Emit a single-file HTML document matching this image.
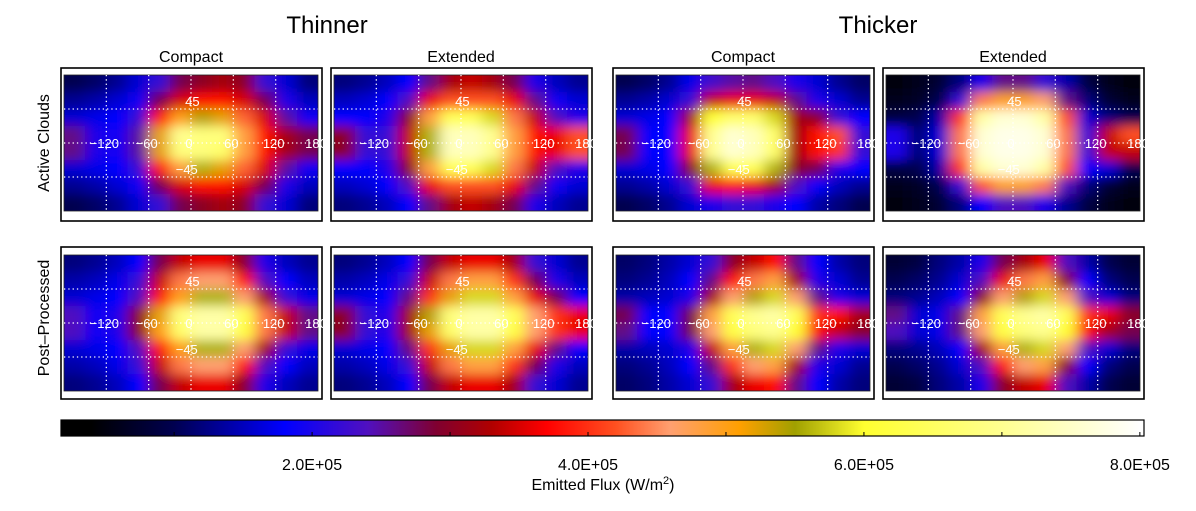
<!DOCTYPE html>
<html><head><meta charset="utf-8"><style>
html,body{margin:0;padding:0;background:#fff;}
svg{display:block;font-family:"Liberation Sans",sans-serif;}
</style></head><body>
<svg id="fig" width="1196" height="511" viewBox="0 0 1196 511">
<defs id="defs">
<filter id="smooth" x="-0.2" y="-0.2" width="1.4" height="1.4"><feGaussianBlur stdDeviation="7 5.5"/></filter>
<linearGradient id="cbar" x1="0" x2="1" y1="0" y2="0"></linearGradient>
</defs>
<g id="titles">
<text x="327" y="33" font-size="24" text-anchor="middle">Thinner</text>
<text x="878" y="33" font-size="24" text-anchor="middle">Thicker</text>
<text x="191" y="62" font-size="16" text-anchor="middle">Compact</text>
<text x="461" y="62" font-size="16" text-anchor="middle">Extended</text>
<text x="743" y="62" font-size="16" text-anchor="middle">Compact</text>
<text x="1013" y="62" font-size="16" text-anchor="middle">Extended</text>
<text transform="translate(49,143) rotate(-90)" font-size="16" text-anchor="middle">Active Clouds</text>
<text transform="translate(49,318) rotate(-90)" font-size="16" text-anchor="middle">Post–Processed</text>
</g>
<g id="panels"></g>
<g id="colorbar"></g>
</svg>
<script>
// value scale in units of 1E5 W/m^2; grids: 8 latitude rows (90N..90S) x 12 longitude cols (-180..180)
const cmapVals = [0.4,1.0,1.8,2.4,2.9,3.3,3.7,4.2,4.6,5.1,5.5,6.0,7.0,8.0];
const cmapCols = ["#000000","#000050","#0000ff","#5010c0","#800030","#b00000","#ff0000","#ff5020","#ffa070","#ffa000","#a0a000","#ffff30","#ffff90","#ffffff"];
const cbarTicks = [2,4,6,8];
const cbarTickLabels = ["2.0E+05","4.0E+05","6.0E+05","8.0E+05"];
const lonTicks = [-120,-60,0,60,120,180];
const latTicks = [45,-45];

const thinCompactActive = [
[1.0,1.1,1.3,1.6,2.2,2.8,3.0,3.2,3.0,2.2,1.6,1.2],
[1.3,1.4,1.6,1.9,2.8,3.5,3.8,3.8,3.5,2.8,2.0,1.5],
[1.6,1.7,1.8,2.2,3.8,5.0,5.4,5.2,4.3,3.5,2.5,1.9],
[2.6,2.0,1.9,2.5,5.2,7.0,6.8,6.8,4.8,3.8,3.2,2.8],
[2.6,2.0,1.9,2.5,5.2,6.8,6.8,6.6,4.8,3.8,3.2,2.8],
[1.6,1.7,1.8,2.2,3.8,4.8,5.6,5.2,4.3,3.5,2.5,1.9],
[1.3,1.4,1.6,1.9,2.8,3.5,3.8,3.8,3.5,2.8,2.0,1.5],
[1.0,1.1,1.3,1.6,2.2,2.8,3.0,3.2,3.0,2.2,1.6,1.2]];
const thinExtendedActive = [
[1.2,1.3,1.5,1.8,2.6,3.2,3.4,3.2,2.8,2.0,1.5,1.3],
[1.5,1.6,1.8,2.4,3.6,4.2,4.2,4.2,3.6,2.6,1.9,1.6],
[1.8,1.8,2.0,3.0,4.8,6.4,6.4,5.8,4.4,3.4,2.4,2.0],
[3.0,2.2,2.2,3.4,5.6,7.4,7.4,7.0,4.8,3.8,3.6,4.2],
[3.0,2.2,2.2,3.4,5.6,7.4,7.4,7.0,4.8,3.8,3.6,4.2],
[1.8,1.8,2.0,3.0,4.8,6.4,6.4,5.8,4.4,3.4,2.4,2.0],
[1.5,1.6,1.8,2.4,3.6,4.2,4.2,4.2,3.6,2.6,1.9,1.6],
[1.2,1.3,1.5,1.8,2.6,3.2,3.4,3.2,2.8,2.0,1.5,1.3]];
const thickCompactActive = [
[1.0,1.1,1.3,1.7,2.3,2.5,2.6,2.4,2.0,1.6,1.3,1.1],
[1.3,1.4,1.6,2.2,3.4,3.6,3.6,3.4,2.6,2.0,1.6,1.3],
[1.6,1.7,1.8,3.2,6.0,6.6,6.6,5.8,3.2,3.0,2.2,1.8],
[2.8,1.8,1.8,3.6,7.0,7.6,7.4,6.6,3.2,3.8,4.2,2.2],
[2.8,1.8,1.8,3.6,7.0,7.6,7.4,6.6,3.2,3.8,4.0,2.2],
[1.6,1.7,1.8,3.0,5.6,6.4,6.4,5.6,3.0,2.8,2.0,1.8],
[1.3,1.4,1.6,2.2,3.6,3.8,3.6,3.2,2.4,1.8,1.5,1.3],
[1.0,1.1,1.3,1.6,2.0,2.2,2.2,2.0,1.8,1.4,1.2,1.0]];
const thickExtendedActive = [
[0.5,0.6,0.8,1.2,2.0,2.6,2.6,2.2,1.4,0.9,0.6,0.5],
[0.6,0.7,1.0,2.2,4.4,5.0,5.0,4.6,2.6,1.2,0.8,0.6],
[0.9,1.0,1.4,4.0,7.2,7.6,7.6,7.2,4.2,1.6,1.2,1.0],
[2.0,1.2,1.6,4.4,7.6,7.8,7.8,7.6,4.4,2.2,3.4,4.2],
[2.0,1.2,1.6,4.4,7.6,7.8,7.8,7.6,4.4,2.2,3.4,3.4],
[0.9,1.0,1.4,4.0,7.2,7.6,7.6,7.2,4.2,1.8,1.6,1.0],
[0.6,0.7,1.0,2.2,4.2,5.0,5.0,4.4,2.4,1.2,0.8,0.6],
[0.5,0.6,0.8,1.2,1.8,2.4,2.4,2.0,1.3,0.9,0.6,0.5]];
const thinCompactPost = [
[1.2,1.3,1.5,1.8,2.8,3.4,3.6,3.6,3.0,2.0,1.5,1.3],
[1.4,1.5,1.7,2.2,3.4,4.4,4.6,4.6,3.8,2.4,1.8,1.5],
[1.6,1.7,1.8,2.4,3.8,5.0,5.6,5.6,4.6,3.2,2.2,1.7],
[2.4,1.9,2.0,3.0,5.2,6.8,7.2,7.2,6.4,4.4,3.4,2.6],
[2.4,1.9,2.0,3.0,5.0,6.6,7.2,7.2,6.2,4.4,3.4,2.6],
[1.6,1.7,1.8,2.4,3.8,5.0,5.6,5.6,4.6,3.2,2.2,1.7],
[1.4,1.5,1.7,2.2,3.4,4.4,4.6,4.6,3.8,2.4,1.8,1.5],
[1.2,1.3,1.5,1.8,2.8,3.4,3.6,3.6,3.0,2.0,1.5,1.3]];
const thinExtendedPost = [
[1.2,1.3,1.5,1.8,2.8,3.4,3.6,3.6,3.2,2.2,1.6,1.3],
[1.4,1.5,1.7,2.2,3.4,4.4,4.8,4.8,4.0,2.8,2.0,1.5],
[1.6,1.7,1.8,2.6,4.0,5.2,5.8,5.8,4.8,3.6,2.8,1.8],
[3.0,2.2,2.0,3.2,5.4,6.8,7.2,7.2,6.4,4.6,4.0,3.6],
[3.0,2.2,2.0,3.2,5.2,6.6,7.2,7.2,6.2,4.6,4.0,3.6],
[1.6,1.7,1.8,2.6,4.0,5.2,5.8,5.8,4.8,3.6,2.6,1.8],
[1.4,1.5,1.7,2.2,3.4,4.4,4.8,4.8,4.0,2.8,2.0,1.5],
[1.2,1.3,1.5,1.8,2.8,3.4,3.6,3.6,3.2,2.2,1.6,1.3]];
const thickCompactPost = [
[1.1,1.2,1.4,1.6,2.2,3.0,3.4,3.8,2.6,1.8,1.4,1.2],
[1.2,1.3,1.5,1.8,2.6,3.8,4.4,4.8,3.2,2.0,1.6,1.3],
[1.4,1.5,1.6,2.0,3.2,4.6,5.4,5.8,4.6,2.6,2.0,1.6],
[2.8,1.8,1.8,2.8,4.8,6.4,7.0,7.2,6.4,4.0,3.8,3.2],
[2.6,1.8,1.8,2.8,4.6,6.2,6.8,7.0,6.0,3.8,3.4,3.0],
[1.4,1.5,1.6,2.0,3.4,4.8,5.6,5.8,4.6,2.6,2.0,1.6],
[1.2,1.3,1.5,1.8,2.6,4.0,4.6,4.8,3.2,2.0,1.6,1.3],
[1.1,1.2,1.4,1.6,2.2,3.2,3.6,3.8,2.6,1.8,1.4,1.2]];
const thickExtendedPost = [
[0.8,0.9,1.2,1.4,2.0,2.8,3.2,3.6,2.4,1.4,1.0,0.8],
[1.0,1.1,1.3,1.6,2.4,3.6,4.4,4.8,3.0,1.8,1.2,1.0],
[1.2,1.3,1.5,1.8,3.0,4.6,5.4,5.8,4.6,2.4,1.6,1.2],
[2.6,1.6,1.7,2.6,4.8,6.4,7.0,7.2,6.4,4.0,3.6,3.0],
[2.4,1.6,1.7,2.6,4.6,6.2,6.8,7.0,6.0,3.8,3.2,2.8],
[1.2,1.3,1.5,1.8,3.2,4.8,5.6,5.8,4.6,2.4,1.6,1.2],
[1.0,1.1,1.3,1.6,2.4,3.8,4.6,4.8,3.0,1.8,1.2,1.0],
[0.8,0.9,1.2,1.4,2.0,3.0,3.4,3.6,2.4,1.4,1.0,0.8]];

const panelNames = ["thinner-compact-active","thinner-extended-active","thicker-compact-active","thicker-extended-active","thinner-compact-post","thinner-extended-post","thicker-compact-post","thicker-extended-post"];
const panelGrids = [thinCompactActive,thinExtendedActive,thickCompactActive,thickExtendedActive,thinCompactPost,thinExtendedPost,thickCompactPost,thickExtendedPost];

const NS="http://www.w3.org/2000/svg";
function mk(tag,attrs,parent){const e=document.createElementNS(NS,tag);for(const k in attrs)e.setAttribute(k,attrs[k]);if(parent)parent.appendChild(e);return e;}
function hex(c){return [parseInt(c.slice(1,3),16),parseInt(c.slice(3,5),16),parseInt(c.slice(5,7),16)];}
function color(v){
  if(v<=cmapVals[0])return cmapCols[0];
  for(let i=1;i<cmapVals.length;i++){
    if(v<=cmapVals[i]){const t=(v-cmapVals[i-1])/(cmapVals[i]-cmapVals[i-1]);const a=hex(cmapCols[i-1]),b=hex(cmapCols[i]);
      return "rgb("+a.map((x,j)=>Math.round(x+(b[j]-x)*t)).join(",")+")";}
  }
  return cmapCols[cmapCols.length-1];
}
const defs=document.getElementById('defs');
const colX=[64,334,616,886], rowY=[75,255], mapW=254, mapH=136;
const frameX=[61,331,613,883], frameY=[68,247], frameH=[153,152];
const panelsG=document.getElementById('panels');
panelGrids.forEach((grid,pi)=>{
  const c=pi%4,r=Math.floor(pi/4);
  const x0=colX[c],y0=rowY[r];
  const lonX=lon=>x0+(lon+180)/360*mapW;
  const latY=lat=>y0+(90-lat)/180*mapH;
  const cp=mk('clipPath',{id:'clip'+pi},defs);
  mk('rect',{x:x0,y:y0,width:mapW,height:mapH},cp);
  const g=mk('g',{},panelsG);
  
  
  const fr=mk('rect',{x:frameX[c],y:frameY[r],width:261,height:frameH[r],fill:'#fff',stroke:'#000','stroke-width':1.6},g);
  
  
  const clipG=mk('g',{'clip-path':'url(#clip'+pi+')'},g);
  const hm=mk('g',{filter:'url(#smooth)'},clipG);
  
  
  const nr=grid.length,nc=grid[0].length;
  for(let ri=-2;ri<=nr+1;ri++)for(let ci=-2;ci<=nc+1;ci++){
    if(ri>=0&&ri<nr&&ci>=0&&ci<nc)continue;
    const v=grid[Math.min(nr-1,Math.max(0,ri))][Math.min(nc-1,Math.max(0,ci))];
    const p=mk('rect',{x:lonX(-180+ci*360/nc),y:latY(90-ri*180/nr),width:mapW/nc+0.5,height:mapH/nr+0.5,fill:color(v)},hm);
    
    
  }
  grid.forEach((row,ri)=>row.forEach((v,ci)=>{
    const lonA=-180+ci*360/nc, latA=90-ri*180/nr;
    const cell=mk('rect',{x:lonX(lonA),y:latY(latA),width:mapW/nc+0.5,height:mapH/nr+0.5,fill:color(v)},hm);
    
    
  }));
  const bd=mk('rect',{x:x0,y:y0,width:mapW,height:mapH,fill:'none',stroke:'#222','stroke-width':0.8},g);
  
  
  lonTicks.forEach(l=>{ if(l===180)return;
    const ln=mk('line',{x1:lonX(l),x2:lonX(l),y1:y0,y2:y0+mapH,stroke:'#fff','stroke-width':1.3,'stroke-dasharray':'1.3 3'},g);
    
    
  });
  latTicks.concat([0]).forEach(l=>{
    const ln=mk('line',{x1:x0,x2:x0+mapW,y1:latY(l),y2:latY(l),stroke:'#fff','stroke-width':1.3,'stroke-dasharray':'1.3 3'},g);
    
    
  });
  lonTicks.forEach(l=>{
    const t=mk('text',{x:lonX(l)-2,y:latY(0)+5,'font-size':13,fill:'#fff','text-anchor':'middle'},g);
    t.textContent=(l<0?'\u2212':'')+Math.abs(l);
    
    
  });
  latTicks.forEach(l=>{
    const t=mk('text',{x:lonX(l>0?2:-6),y:latY(l)-3,'font-size':13,fill:'#fff','text-anchor':'middle'},g);
    t.textContent=(l<0?'\u2212':'')+Math.abs(l);
    
    
  });
});
// colorbar
const cb=document.getElementById('colorbar');
const cbX0=61,cbX1=1144,cbMin=0.18,cbMax=8.03;
const cbx=v=>cbX0+(v-cbMin)/(cbMax-cbMin)*(cbX1-cbX0);
const grad=document.getElementById('cbar');
cmapVals.forEach((v,i)=>{mk('stop',{offset:Math.max(0,Math.min(1,(v-cbMin)/(cbMax-cbMin))),'stop-color':cmapCols[i]},grad);});
const bar=mk('rect',{x:cbX0,y:420,width:cbX1-cbX0,height:16,fill:'url(#cbar)',stroke:'#000','stroke-width':1.2},cb);


[1,2,3,4,5,6,7,8].forEach(v=>{
  const tk=mk('line',{x1:cbx(v),x2:cbx(v),y1:432,y2:436,stroke:'#000','stroke-width':1},cb);
  
  
});
cbarTicks.forEach((v,i)=>{
  const t=mk('text',{x:cbx(v),y:470,'font-size':16,'text-anchor':'middle'},cb);
  t.textContent=cbarTickLabels[i];
  
  
});
const ct=mk('text',{x:603,y:490,'font-size':16,'text-anchor':'middle'},cb);
ct.innerHTML='Emitted Flux (W/m<tspan dy="-6" font-size="11">2</tspan><tspan dy="6">)</tspan>';


</script>
</body></html>
